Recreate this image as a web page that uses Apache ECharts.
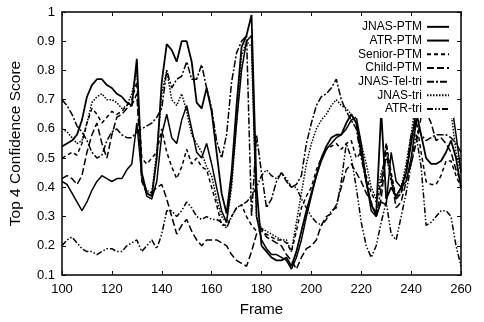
<!DOCTYPE html>
<html>
<head>
<meta charset="utf-8">
<script src="https://cdn.jsdelivr.net/npm/echarts@6/dist/echarts.min.js"></script>
<style>
  html, body { margin: 0; padding: 0; background: #fff; }
  #chart { width: 484px; height: 322px; }
</style>
</head>
<body>
<div id="chart"></div>
<script>
// frame numbers (x), sampled every 2 frames
const frames = [
  100, 102, 104, 106, 108, 110, 112, 114, 116, 118,
  120, 122, 124, 126, 128, 130, 132, 134, 136, 138,
  140, 142, 144, 146, 148, 150, 152, 154, 156, 158,
  160, 162, 164, 166, 168, 170, 172, 174, 176, 178,
  180, 182, 184, 186, 188, 190, 192, 194, 196, 198,
  200, 202, 204, 206, 208, 210, 212, 214, 216, 218,
  220, 222, 224, 226, 228, 230, 232, 234, 236, 238,
  240, 242, 244, 246, 248, 250, 252, 254, 256, 258,
  260
];

const jnasPtm = [
  0.54, 0.55, 0.56, 0.58, 0.63, 0.71, 0.75, 0.77, 0.77, 0.75,
  0.74, 0.72, 0.71, 0.69, 0.68, 0.84, 0.45, 0.38, 0.37, 0.50,
  0.76, 0.89, 0.87, 0.83, 0.90, 0.90, 0.83, 0.69, 0.67, 0.74,
  0.66, 0.52, 0.38, 0.31, 0.45, 0.68, 0.88, 0.92, 0.99, 0.40,
  0.20, 0.18, 0.16, 0.15, 0.15, 0.16, 0.13, 0.18, 0.25, 0.32,
  0.38, 0.44, 0.50, 0.54, 0.57, 0.58, 0.58, 0.62, 0.65, 0.62,
  0.52, 0.42, 0.34, 0.31, 0.66, 0.36, 0.40, 0.37, 0.40, 0.45,
  0.55, 0.66, 0.58, 0.50, 0.48, 0.48, 0.49, 0.52, 0.56, 0.50,
  0.40
];

const atrPtm = [
  0.42, 0.41, 0.38, 0.35, 0.32, 0.35, 0.39, 0.42, 0.44, 0.43,
  0.42, 0.43, 0.43, 0.46, 0.48, 0.62, 0.44, 0.37, 0.36, 0.42,
  0.58, 0.65, 0.57, 0.55, 0.63, 0.68, 0.60, 0.52, 0.50, 0.55,
  0.48, 0.40, 0.32, 0.28, 0.42, 0.62, 0.80, 0.90, 0.92, 0.30,
  0.22, 0.19, 0.17, 0.17, 0.16, 0.15, 0.12, 0.16, 0.22, 0.30,
  0.37, 0.44, 0.49, 0.53, 0.55, 0.57, 0.58, 0.60, 0.63, 0.64,
  0.55, 0.42, 0.32, 0.30, 0.35, 0.34, 0.52, 0.42, 0.40, 0.42,
  0.50, 0.62, 0.72, 0.78, 0.74, 0.70, 0.68, 0.68, 0.70, 0.58,
  0.45
];

const seniorPtm = [
  0.50, 0.51, 0.52, 0.51, 0.55, 0.62, 0.67, 0.65, 0.62, 0.64,
  0.66, 0.65, 0.66, 0.68, 0.70, 0.76, 0.50, 0.48, 0.50, 0.52,
  0.60, 0.52, 0.47, 0.43, 0.47, 0.53, 0.48, 0.50, 0.47, 0.46,
  0.40, 0.34, 0.27, 0.27, 0.30, 0.33, 0.34, 0.30, 0.27, 0.25,
  0.25, 0.24, 0.23, 0.22, 0.22, 0.21, 0.18, 0.25, 0.33, 0.37,
  0.40, 0.46, 0.50, 0.53, 0.54, 0.55, 0.53, 0.55, 0.56, 0.50,
  0.52, 0.44, 0.38, 0.35, 0.42, 0.55, 0.45, 0.36, 0.38, 0.45,
  0.55, 0.63, 0.52, 0.42, 0.41, 0.41, 0.44, 0.49, 0.49, 0.44,
  0.40
];

const childPtm = [
  0.43, 0.44, 0.43, 0.41, 0.44, 0.52, 0.58, 0.62, 0.55, 0.50,
  0.58, 0.64, 0.65, 0.67, 0.68, 0.72, 0.42, 0.38, 0.38, 0.40,
  0.41, 0.36, 0.30, 0.24, 0.27, 0.29, 0.25, 0.22, 0.20, 0.22,
  0.22, 0.22, 0.21, 0.20, 0.17, 0.15, 0.14, 0.13, 0.18, 0.24,
  0.26, 0.23, 0.22, 0.21, 0.20, 0.17, 0.15, 0.12, 0.16, 0.19,
  0.20, 0.22, 0.27, 0.30, 0.31, 0.34, 0.40, 0.46, 0.48, 0.45,
  0.42, 0.38, 0.35, 0.30, 0.36, 0.52, 0.43, 0.33, 0.35, 0.42,
  0.48, 0.55, 0.64, 0.66, 0.62, 0.56, 0.57, 0.55, 0.52, 0.46,
  0.42
];

const jnasTelTri = [
  0.70, 0.68, 0.65, 0.61, 0.59, 0.56, 0.52, 0.50, 0.51, 0.56,
  0.59, 0.60, 0.58, 0.57, 0.57, 0.59, 0.60, 0.61, 0.62, 0.64,
  0.67, 0.80, 0.74, 0.77, 0.78, 0.83, 0.77, 0.77, 0.82, 0.74,
  0.67, 0.56, 0.50, 0.58, 0.76, 0.86, 0.90, 0.92, 0.30, 0.58,
  0.45, 0.33, 0.36, 0.42, 0.45, 0.42, 0.40, 0.41, 0.44, 0.55,
  0.62, 0.68, 0.71, 0.72, 0.74, 0.77, 0.70, 0.66, 0.63, 0.60,
  0.50, 0.42, 0.34, 0.30, 0.40, 0.55, 0.42, 0.36, 0.38, 0.46,
  0.58, 0.62, 0.58, 0.56, 0.57, 0.58, 0.58, 0.58, 0.57, 0.55,
  0.52
];

const jnasTri = [
  0.60, 0.59, 0.57, 0.55, 0.56, 0.62, 0.69, 0.71, 0.72, 0.70,
  0.70, 0.69, 0.67, 0.68, 0.72, 0.80, 0.42, 0.39, 0.38, 0.52,
  0.72, 0.80, 0.70, 0.68, 0.72, 0.66, 0.58, 0.55, 0.52, 0.47,
  0.44, 0.36, 0.30, 0.28, 0.40, 0.62, 0.85, 0.90, 0.88, 0.30,
  0.26, 0.25, 0.24, 0.23, 0.22, 0.22, 0.18, 0.28, 0.38, 0.48,
  0.55, 0.60, 0.63, 0.65, 0.68, 0.70, 0.68, 0.67, 0.65, 0.62,
  0.55, 0.48, 0.40, 0.36, 0.45, 0.50, 0.44, 0.36, 0.40, 0.48,
  0.58, 0.70, 0.75, 0.78, 0.75, 0.72, 0.72, 0.74, 0.66, 0.52,
  0.45
];

const atrTri = [
  0.20, 0.22, 0.23, 0.21, 0.19, 0.18, 0.18, 0.17, 0.18, 0.19,
  0.19, 0.18, 0.18, 0.20, 0.21, 0.22, 0.18, 0.20, 0.22, 0.19,
  0.24, 0.32, 0.32, 0.30, 0.32, 0.35, 0.33, 0.30, 0.29, 0.30,
  0.29, 0.29, 0.28, 0.26, 0.30, 0.33, 0.34, 0.35, 0.37, 0.40,
  0.44, 0.46, 0.44, 0.43, 0.45, 0.43, 0.40, 0.40, 0.36, 0.33,
  0.30, 0.28, 0.27, 0.29, 0.32, 0.33, 0.42, 0.55, 0.50, 0.40,
  0.28, 0.20, 0.16, 0.20, 0.28, 0.35, 0.24, 0.22, 0.30, 0.38,
  0.48, 0.58, 0.47, 0.27, 0.28, 0.30, 0.32, 0.32, 0.30, 0.20,
  0.13
];

const xTicks = { min: 100, max: 260, step: 20 };
const yTicks = { min: 0.1, max: 1, step: 0.1 };

const lines = [
  { name: 'JNAS-PTM', values: jnasPtm, dash: 'solid', width: 1.8 },
  { name: 'ATR-PTM', values: atrPtm, dash: 'solid', width: 1.5 },
  { name: 'Senior-PTM', values: seniorPtm, dash: [4, 3], width: 1.5 },
  { name: 'Child-PTM', values: childPtm, dash: [7, 3], width: 1.5 },
  { name: 'JNAS-Tel-tri', values: jnasTelTri, dash: [7, 2, 2, 2], width: 1.5 },
  { name: 'JNAS-tri', values: jnasTri, dash: [1.5, 1.5], width: 1.5 },
  { name: 'ATR-tri', values: atrTri, dash: [6, 2, 1.5, 2, 1.5, 2], width: 1.5 },
];

const font = '"Liberation Sans", Arial, sans-serif';
const chart = echarts.init(document.getElementById('chart'));

const hiddenAxis = {
  axisLine: { show: true, lineStyle: { color: '#000', width: 1.5 } },
  axisTick: { show: true, inside: true, length: 4, lineStyle: { color: '#000' } },
  axisLabel: { show: false },
  splitLine: { show: false },
};

chart.setOption({
  animation: false,
  backgroundColor: '#fff',
  grid: { left: 59, right: 23, top: 12, bottom: 41, show: false },
  legend: {
    orient: 'vertical',
    right: 30,
    top: 17,
    align: 'right',
    itemWidth: 22,
    itemHeight: 10,
    itemGap: 0,
    padding: [3, 4, 2, 2],
    backgroundColor: '#fff',
    selectedMode: false,
    // hide the marker dot, keep the line sample
    itemStyle: { opacity: 0, borderWidth: 0 },
    textStyle: { fontFamily: font, fontSize: 12, lineHeight: 13.7, color: '#000' },
    data: lines.map((l) => l.name),
  },
  xAxis: [
    {
      type: 'value',
      min: xTicks.min,
      max: xTicks.max,
      interval: xTicks.step,
      name: 'Frame',
      nameLocation: 'middle',
      nameGap: 27,
      nameTextStyle: { fontFamily: font, fontSize: 15, color: '#000' },
      axisLine: { show: true, lineStyle: { color: '#000', width: 1.5 } },
      axisTick: { inside: true, length: 4, lineStyle: { color: '#000' } },
      axisLabel: { fontFamily: font, fontSize: 13, color: '#000', margin: 8 },
      splitLine: { show: false },
    },
    Object.assign({ type: 'value', position: 'top', min: xTicks.min, max: xTicks.max, interval: xTicks.step }, hiddenAxis),
  ],
  yAxis: [
    {
      type: 'value',
      min: yTicks.min,
      max: yTicks.max,
      interval: yTicks.step,
      name: 'Top 4 Confidence Score',
      nameLocation: 'middle',
      nameGap: 38,
      nameTextStyle: { fontFamily: font, fontSize: 15.5, color: '#000' },
      axisLine: { show: true, lineStyle: { color: '#000', width: 1.5 } },
      axisTick: { inside: true, length: 4, lineStyle: { color: '#000' } },
      axisLabel: {
        fontFamily: font, fontSize: 13, color: '#000', margin: 7,
        formatter: (v) => String(+v.toFixed(1)),
      },
      splitLine: { show: false },
    },
    Object.assign({ type: 'value', position: 'right', min: yTicks.min, max: yTicks.max, interval: yTicks.step }, hiddenAxis),
  ],
  series: lines.map((l) => ({
    name: l.name,
    type: 'line',
    symbol: 'none',
    clip: true,
    data: frames.map((f, i) => [f, l.values[i]]),
    lineStyle: { color: '#000', width: l.width, type: l.dash },
    itemStyle: { color: '#000' },
  })),
});
</script>
</body>
</html>
